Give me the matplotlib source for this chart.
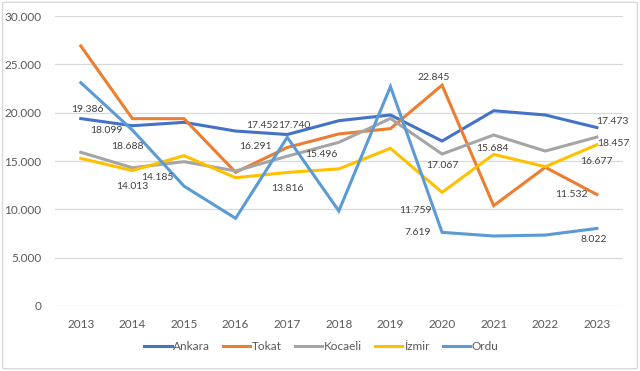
import matplotlib
matplotlib.use("Agg")
import matplotlib.pyplot as plt
from matplotlib.ticker import FuncFormatter, MultipleLocator
from matplotlib.patches import FancyBboxPatch

years = [2013, 2014, 2015, 2016, 2017, 2018, 2019, 2020, 2021, 2022, 2023]
ankara = [19386, 18650, 19000, 18099, 17740, 19170, 19760, 17067, 20200, 19760, 18457]
tokat = [26900, 19380, 19380, 13830, 16400, 17800, 18350, 22845, 10380, 14350, 11532]
kocaeli = [15900, 14300, 14930, 13970, 15496, 16930, 19400, 15720, 17690, 16030, 17473]
izmir = [15270, 14013, 15550, 13270, 13816, 14185, 16310, 11759, 15684, 14410, 16677]
ordu = [23100, 18200, 12400, 9070, 17452, 9830, 22700, 7619, 7240, 7340, 8022]

series_names = ["Ankara", "Tokat", "Kocaeli", "İzmir", "Ordu"]
series_values = [ankara, tokat, kocaeli, izmir, ordu]
colors = ["#4472C4", "#ED7D31", "#A5A5A5", "#FFC000", "#5B9BD5"]

# data label texts and where they sit (year, value)
label_texts = ["19.386", "18.099", "18.688", "14.185", "14.013", "17.452", "17.740",
               "16.291", "15.496", "13.816", "22.845", "17.067", "15.684", "17.473",
               "18.457", "16.677", "11.759", "7.619", "11.532", "8.022"]
label_pos = [(2013.12, 20276), (2013.49, 18104), (2013.91, 16449), (2014.48, 13242),
             (2013.99, 12311), (2016.51, 18724), (2017.13, 18724), (2016.38, 16449),
             (2017.67, 15621), (2017.0, 12104), (2019.83, 23587), (2020.0, 14586),
             (2020.97, 16242), (2023.29, 19035), (2023.31, 16862), (2023.0, 14897),
             (2019.48, 9931), (2019.53, 7552), (2022.5, 11483), (2022.93, 6828)]

plt.rcParams['font.family'] = ['Lato', 'DejaVu Sans']

fig = plt.figure(figsize=(6.4, 3.71), dpi=100)
fig.patches.append(FancyBboxPatch((0.004, 0.006), 0.992, 0.988, boxstyle="round,pad=0,rounding_size=0.004",
                                  transform=fig.transFigure, facecolor="white",
                                  edgecolor="#D9D9D9", linewidth=1.0, zorder=-10))
ax = fig.add_axes([55/640, 65/371, 567.7/640, 290/371])
ax.set_facecolor("none")

for name, vals, c in zip(series_names, series_values, colors):
    ax.plot(years, vals, color=c, lw=2.2, label=name, solid_joinstyle="miter", zorder=3)

for t, (x, y) in zip(label_texts, label_pos):
    ax.text(x, y, t, ha="center", va="center", fontsize=7.5, color="#404040", zorder=5)

ax.set_xlim(2012.5, 2023.5)
ax.set_ylim(0, 30000)
ax.yaxis.set_major_locator(MultipleLocator(5000))
ax.yaxis.set_major_formatter(FuncFormatter(lambda v, p: f"{int(v):,}".replace(",", ".")))
ax.set_xticks(years)
ax.grid(axis="y", color="#D9D9D9", lw=0.9, zorder=0)
for s in ax.spines.values():
    s.set_visible(False)
ax.tick_params(axis="both", length=0, labelsize=8.5, colors="#595959")
ax.tick_params(axis="x", pad=9)
ax.tick_params(axis="y", pad=10)

leg = fig.legend(loc="center", bbox_to_anchor=(0.502, 1 - 347/371), ncol=5, frameon=False,
                 fontsize=8.5, handlelength=2.3, handletextpad=0.15, columnspacing=1.1,
                 labelcolor="#595959")

fig.savefig("out.png", dpi=100)
